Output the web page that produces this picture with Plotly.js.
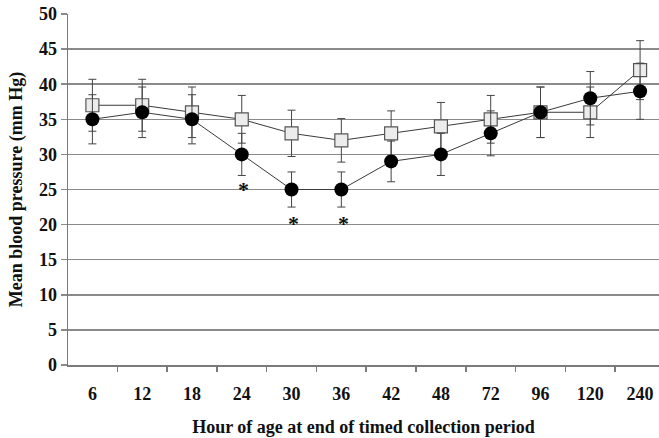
<!DOCTYPE html>
<html>
<head>
<meta charset="utf-8">
<script src="https://cdn.plot.ly/plotly-3.0.1.min.js"></script>
<style>html,body{margin:0;padding:0;background:#fff;}#chart{width:659px;height:438px;}</style>
</head>
<body>
<div id="chart"></div>
<script>
// Data
const hours = ['6','12','18','24','30','36','42','48','72','96','120','240'];
const squareMean = [37, 37, 36, 35, 33, 32, 33, 34, 35, 36, 36, 42];
const squareSD   = [3.7, 3.7, 3.6, 3.4, 3.3, 3.1, 3.2, 3.4, 3.4, 3.6, 3.6, 4.2];
const circleMean = [35, 36, 35, 30, 25, 25, 29, 30, 33, 36, 38, 39];
const circleSD   = [3.5, 3.6, 3.5, 3.0, 2.5, 2.5, 2.9, 3.0, 3.2, 3.6, 3.8, 4.0];
const starHours  = ['24', '30', '36'];
const starY      = [25.0, 20.1, 20.1];
const yTicks     = [0, 5, 10, 15, 20, 25, 30, 35, 40, 45, 50];

const serif = 'Liberation Serif, Times New Roman, serif';
const ink = '#111111';
const lineCol = '#3a3a3a';

const traces = [
  {
    x: hours, y: squareMean, type: 'scatter', mode: 'lines+markers',
    line: {color: lineCol, width: 1},
    marker: {symbol: 'square', size: 13, color: '#ececec', line: {color: '#555555', width: 1.2}},
    error_y: {type: 'data', array: squareSD, visible: true, color: '#444444', thickness: 1, width: 4},
    cliponaxis: false, hoverinfo: 'skip'
  },
  {
    x: hours, y: circleMean, type: 'scatter', mode: 'lines+markers',
    line: {color: lineCol, width: 1},
    marker: {symbol: 'circle', size: 14, color: '#000000', line: {color: '#000000', width: 0}},
    error_y: {type: 'data', array: circleSD, visible: true, color: '#444444', thickness: 1, width: 4},
    cliponaxis: false, hoverinfo: 'skip'
  }
];

// category axis: place annotations by category index
const annotations = starHours.map((h, i) => ({
  x: hours.indexOf(h), y: starY[i], xref: 'x', yref: 'y', text: '*', showarrow: false,
  xshift: 2, yanchor: 'middle',
  font: {family: serif, size: 22, color: ink, weight: 'bold'}
}));

const layout = {
  width: 659, height: 438,
  margin: {l: 68, r: 0, t: 14, b: 73},
  paper_bgcolor: '#ffffff', plot_bgcolor: '#ffffff',
  showlegend: false,
  font: {family: serif, color: ink},
  xaxis: {
    type: 'category', categoryorder: 'array', categoryarray: hours,
    range: [-0.49, 11.38], fixedrange: true,
    showgrid: false, zeroline: false,
    showline: true, linecolor: '#7a7a7a', linewidth: 1.5,
    ticks: 'outside', tickson: 'boundaries', ticklen: 5, tickcolor: '#7a7a7a', tickwidth: 1.5,
    ticklabelstandoff: 12,
    tickfont: {family: serif, size: 18, color: ink, weight: 'bold'},
    title: {text: 'Hour of age at end of timed collection period', standoff: 17,
            font: {family: serif, size: 18, color: ink, weight: 'bold'}}
  },
  yaxis: {
    range: [0, 50], tickvals: yTicks, fixedrange: true,
    showgrid: true, gridcolor: '#8a8a8a', gridwidth: 1.5,
    zeroline: false,
    showline: true, linecolor: '#7a7a7a', linewidth: 1.5,
    ticks: 'outside', ticklen: 6, tickcolor: '#8a8a8a', tickwidth: 1.5,
    tickfont: {family: serif, size: 18, color: ink, weight: 'bold'},
    title: {text: 'Mean blood pressure (mm Hg)', standoff: 11,
            font: {family: serif, size: 18, color: ink, weight: 'bold'}}
  },
  annotations: annotations
};

Plotly.newPlot('chart', traces, layout, {displayModeBar: false, staticPlot: true});
</script>
</body>
</html>
